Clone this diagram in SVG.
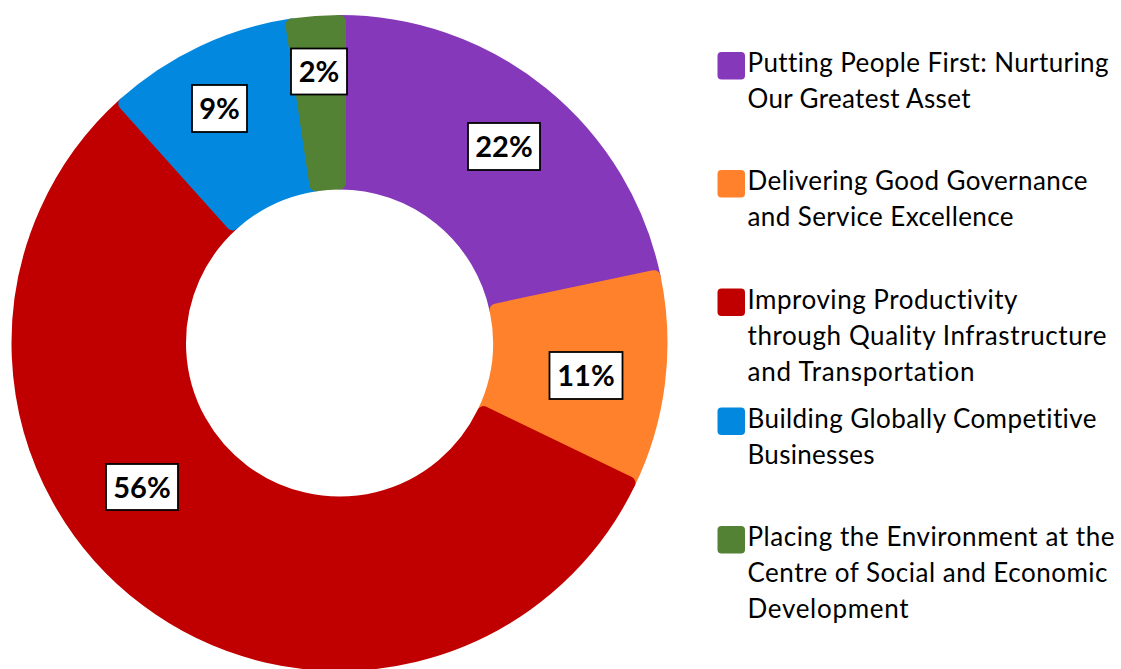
<svg xmlns="http://www.w3.org/2000/svg" width="1121" height="669" viewBox="0 0 1121 669">
<style>
.sl{stroke-width:13;stroke-linejoin:round}
.p{fill:#8538B9;stroke:#8538B9}
.o{fill:#FF812B;stroke:#FF812B}
.r{fill:#C00000;stroke:#C00000}
.b{fill:#0388E0;stroke:#0388E0}
.g{fill:#548235;stroke:#548235}
.lb{fill:#fff;stroke:#000;stroke-width:1.8}
.lt{font-family:Lato,"Liberation Sans",sans-serif;font-weight:bold;font-size:29px;fill:#000;text-anchor:middle;font-variant-ligatures:none;font-feature-settings:"liga" 0}
.tx{font-family:Lato,"Liberation Sans",sans-serif;font-size:26px;fill:#000;font-variant-ligatures:none;font-feature-settings:"liga" 0,"clig" 0,"dlig" 0}
.sw{stroke:none}
</style>
<rect width="1121" height="669" fill="#fff"/>
<g id="chart">
<path id="slice-purple" class="sl p" d="M339.5,21.5 A321.5,321.5 0 0 1 654.09,276.71 L496.06,310.01 A160,160 0 0 0 339.5,183 Z"/>
<path id="slice-orange" class="sl o" d="M654.09,276.71 A321.5,321.5 0 0 1 628.95,482.93 L483.55,412.64 A160,160 0 0 0 496.06,310.01 Z"/>
<path id="slice-red" class="sl r" d="M628.95,482.93 A321.5,321.5 0 1 1 124.79,103.70 L232.65,223.91 A160,160 0 1 0 483.55,412.64 Z"/>
<path id="slice-blue" class="sl b" d="M124.79,103.70 A321.5,321.5 0 0 1 292.0,25.0 L315.9,184.7 A160,160 0 0 0 232.65,223.91 Z"/>
<path id="slice-green" class="sl g" d="M292.0,25.0 A321.5,321.5 0 0 1 339.5,21.5 L339.5,183 A160,160 0 0 0 315.9,184.7 Z"/>
</g>
<g id="labels">
<g id="label-22"><rect class="lb" x="468" y="123" width="72" height="47"/><text class="lt" x="504" y="157">22%</text></g>
<g id="label-11"><rect class="lb" x="549.5" y="352" width="73" height="47"/><text class="lt" x="586" y="386">11%</text></g>
<g id="label-56"><rect class="lb" x="106" y="464" width="72" height="46"/><text class="lt" x="142" y="497.5">56%</text></g>
<g id="label-9"><rect class="lb" x="192" y="85" width="55" height="47"/><text class="lt" x="219.5" y="119">9%</text></g>
<g id="label-2"><rect class="lb" x="291" y="48.5" width="56" height="46"/><text class="lt" x="319" y="82">2%</text></g>
</g>
<g id="legend">
<g id="leg-1"><rect class="p sw" x="717.5" y="52" width="27.5" height="27.5" rx="4"/>
<text class="tx" x="747.5" y="72" textLength="361" lengthAdjust="spacing">Putting People First: Nurturing</text>
<text class="tx" x="747.5" y="108" textLength="223" lengthAdjust="spacing">Our Greatest Asset</text></g>
<g id="leg-2"><rect class="o sw" x="717.5" y="170" width="27.5" height="27.5" rx="4"/>
<text class="tx" x="747.5" y="190" textLength="340" lengthAdjust="spacing">Delivering Good Governance</text>
<text class="tx" x="747.5" y="226" textLength="266" lengthAdjust="spacing">and Service Excellence</text></g>
<g id="leg-3"><rect class="r sw" x="717.5" y="288.5" width="27.5" height="27.5" rx="4"/>
<text class="tx" x="747.5" y="308.5" textLength="270" lengthAdjust="spacing">Improving Productivity</text>
<text class="tx" x="747.5" y="344.5" textLength="359" lengthAdjust="spacing">through Quality Infrastructure</text>
<text class="tx" x="747.5" y="380.5" textLength="227" lengthAdjust="spacing">and Transportation</text></g>
<g id="leg-4"><rect class="b sw" x="717.5" y="407.5" width="27.5" height="27.5" rx="4"/>
<text class="tx" x="747.5" y="427.5" textLength="349" lengthAdjust="spacing">Building Globally Competitive</text>
<text class="tx" x="747.5" y="463.5" textLength="127" lengthAdjust="spacing">Businesses</text></g>
<g id="leg-5"><rect class="g sw" x="717.5" y="526" width="27.5" height="27.5" rx="4"/>
<text class="tx" x="747.5" y="546" textLength="367" lengthAdjust="spacing">Placing the Environment at the</text>
<text class="tx" x="747.5" y="582" textLength="360" lengthAdjust="spacing">Centre of Social and Economic</text>
<text class="tx" x="747.5" y="618" textLength="161" lengthAdjust="spacing">Development</text></g>
</g>
</svg>
